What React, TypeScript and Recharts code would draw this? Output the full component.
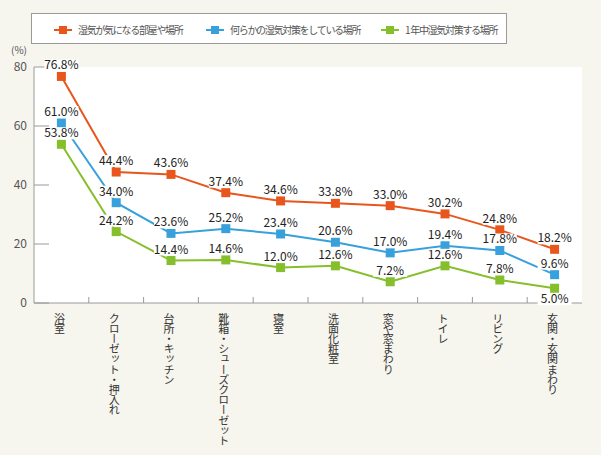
import React from 'react';
import { LineChart, Line, XAxis, YAxis, CartesianGrid, LabelList } from 'recharts';

const categories = [
  '浴室',
  'クローゼット・押入れ',
  '台所・キッチン',
  '靴箱・シューズクローゼット',
  '寝室',
  '洗面化粧室',
  '窓や窓まわり',
  'トイレ',
  'リビング',
  '玄関・玄関まわり',
];
const concerned = [76.8, 44.4, 43.6, 37.4, 34.6, 33.8, 33.0, 30.2, 24.8, 18.2];
const someMeasures = [61.0, 34.0, 23.6, 25.2, 23.4, 20.6, 17.0, 19.4, 17.8, 9.6];
const yearRound = [53.8, 24.2, 14.4, 14.6, 12.0, 12.6, 7.2, 12.6, 7.8, 5.0];
const yTicks = [0, 20, 40, 60, 80];

const seriesNames = ['湿気が気になる部屋や場所', '何らかの湿気対策をしている場所', '1 年中湿気対策する場所'];
const colors = ['#e8561e', '#38a1db', '#86bf2c'];

const data = categories.map((name, i) => ({
  name,
  concerned: concerned[i],
  someMeasures: someMeasures[i],
  yearRound: yearRound[i],
}));

const FONT = '"Noto Sans CJK JP", "Noto Sans", sans-serif';
const AXIS = '#9a9a9a';
const STEP = 54.8; // category width

const SquareDot = (props: any) => {
  const { cx, cy, fill } = props;
  if (cx == null || cy == null) return null;
  return <rect x={cx - 4.5} y={cy - 4.5} width={9} height={9} fill={fill} />;
};

const makeLabel = (below: (i: number) => boolean) => (props: any) => {
  const { x, y, value, index } = props;
  const text = `${Number(value).toFixed(1)}%`;
  const cy = below(index) ? y + 11 : y - 11;
  return (
    <g>
      <rect x={x - 17} y={cy - 6} width={34} height={12} fill="#fff" />
      <text x={x} y={cy} dy={4} textAnchor="middle" fontSize={12} fill="#222" fontFamily={FONT}>
        {text}
      </text>
    </g>
  );
};

const YTick = (props: any) => {
  const { x, y, payload } = props;
  return (
    <g>
      <line x1={x + 7} x2={x + 22} y1={y} y2={y} stroke={AXIS} />
      <text x={x} y={y} dy={4} textAnchor="end" fontSize={12} fill="#555" fontFamily={FONT}>
        {payload.value}
      </text>
    </g>
  );
};

const XTick = (props: any) => {
  const { x, y, payload, index } = props;
  return (
    <g>
      {index > 0 && <line x1={x - STEP / 2} x2={x - STEP / 2} y1={y - 6} y2={y} stroke={AXIS} />}
      <text
        x={x - 2}
        y={y + 10}
        fontSize={11}
        fill="#333"
        fontFamily={FONT}
        style={{ writingMode: 'vertical-rl', letterSpacing: -0.8 }}
      >
        {payload.value}
      </text>
    </g>
  );
};

const LegendBox = () => {
  const pos = [22, 174, 349];
  return (
    <div
      style={{
        position: 'absolute',
        left: 31,
        top: 13,
        width: 474,
        height: 29,
        background: '#fff',
        border: `1px solid ${AXIS}`,
        fontFamily: FONT,
        fontSize: 10,
        letterSpacing: -1.3,
        color: '#555',
      }}
    >
      {seriesNames.map((n, i) => (
        <div
          key={n}
          style={{ position: 'absolute', left: pos[i], top: 8, display: 'flex', alignItems: 'center', whiteSpace: 'nowrap' }}
        >
          <svg width={18} height={10} style={{ marginRight: 6 }}>
            <line x1={0} x2={18} y1={5} y2={5} stroke={colors[i]} strokeWidth={2} />
            <rect x={5} y={1} width={8} height={8} fill={colors[i]} />
          </svg>
          <span>{n}</span>
        </div>
      ))}
    </div>
  );
};

export default function App() {
  return (
    <div style={{ position: 'absolute', left: 0, top: 0, width: 601, height: 455, background: '#f6f5ee' }}>
      <LineChart
        width={601}
        height={455}
        data={data}
        margin={{ top: 67, right: 19, bottom: 12, left: 0 }}
      >
        <CartesianGrid fill="#fff" horizontal={false} vertical={false} />
        <XAxis
          dataKey="name"
          scale="band"
          height={140}
          interval={0}
          tickLine={false}
          tickSize={0}
          tickMargin={0}
          stroke={AXIS}
          tick={<XTick />}
        />
        <XAxis xAxisId="top" dataKey="name" orientation="top" height={0} tick={false} tickLine={false} stroke={AXIS} />
        <YAxis
          domain={[0, 80]}
          ticks={yTicks}
          width={34}
          tickLine={false}
          tickSize={0}
          tickMargin={7}
          stroke={AXIS}
          tick={<YTick />}
        />
        <YAxis yAxisId="r" orientation="right" width={0} domain={[0, 80]} tick={false} tickLine={false} stroke={AXIS} />
        <Line
          dataKey="concerned"
          stroke={colors[0]}
          strokeWidth={2}
          dot={<SquareDot fill={colors[0]} />}
          isAnimationActive={false}
        >
          <LabelList dataKey="concerned" content={makeLabel(() => false)} />
        </Line>
        <Line
          dataKey="someMeasures"
          stroke={colors[1]}
          strokeWidth={2}
          dot={<SquareDot fill={colors[1]} />}
          isAnimationActive={false}
        >
          <LabelList dataKey="someMeasures" content={makeLabel(() => false)} />
        </Line>
        <Line
          dataKey="yearRound"
          stroke={colors[2]}
          strokeWidth={2}
          dot={<SquareDot fill={colors[2]} />}
          isAnimationActive={false}
        >
          <LabelList dataKey="yearRound" content={makeLabel((i) => i === 9)} />
        </Line>
      </LineChart>
      <LegendBox />
      <div style={{ position: 'absolute', left: 11, top: 42, fontFamily: FONT, fontSize: 10, color: '#555' }}>(%)</div>
    </div>
  );
}
